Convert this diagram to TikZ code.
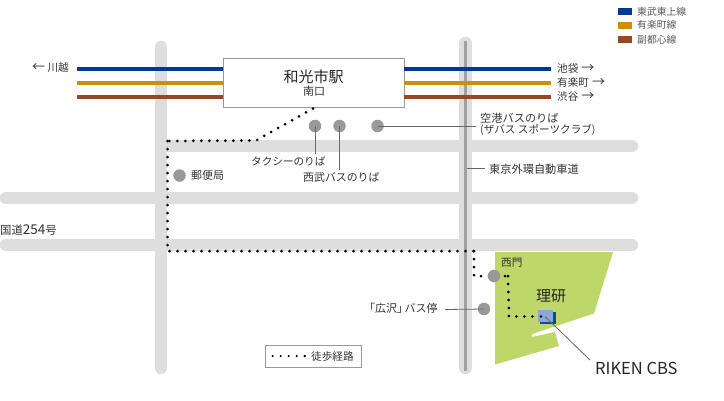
\documentclass[tikz,border=0pt]{standalone}
\usepackage{fontspec}
\setmainfont{Noto Sans CJK JP}
\definecolor{road}{HTML}{DEDEDE}
\definecolor{hwy}{HTML}{A0A0A0}
\definecolor{tobu}{HTML}{003894}
\definecolor{yura}{HTML}{CC8E0C}
\definecolor{fuku}{HTML}{97481E}
\definecolor{mark}{HTML}{999999}
\definecolor{ink}{HTML}{333333}
\definecolor{site}{HTML}{BDD768}
\definecolor{bldg}{HTML}{8DA7D6}
\definecolor{bldgdark}{HTML}{0D47A1}
\newcommand{\bigarrow}[1]{{\fontsize{13}{12}\selectfont #1}}
\tikzset{
  x=1pt,y=-1pt,
  roadline/.style={road,line width=12.5pt,line cap=round},
  rail/.style={line width=4pt},
  spot/.style={circle,fill=mark,minimum size=12.5pt,inner sep=0pt},
  leader/.style={draw=black!60,line width=0.8pt},
  walk/.style={black,line width=3pt,line cap=round,dash pattern=on 0pt off 8pt},
  lbl/.style={font=\fontsize{10.6}{12}\selectfont,text=ink,inner sep=0pt,anchor=west},
  lblw/.style={lbl,font=\fontsize{11.2}{12}\selectfont},
  leg/.style={font=\fontsize{9.8}{12}\selectfont,text=black!65,inner sep=0pt,anchor=west},
  swatch/.style={minimum width=14pt,minimum height=7pt,inner sep=0pt,anchor=north west},
  frame/.style={draw=mark,fill=white,line width=1pt,inner sep=0pt},
}
\begin{document}
\begin{tikzpicture}
\useasboundingbox (0,0) rectangle (724,400);
% roads
\draw[roadline] (161,47) -- (161,368);
\draw[roadline] (465.5,43) -- (465.5,368);
\draw[roadline] (161,146) -- (632,146);
\draw[roadline] (6,198) -- (632,198);
\draw[roadline] (6,245) -- (632,245);
\draw[hwy,line width=3pt] (465.5,41) -- (465.5,371);
% site
\fill[site] (495,252) -- (613,252) -- (594,313.5) -- (532,334) -- (532,337) -- (555,332) -- (559,346) -- (495,364.5) -- cycle;
% station and rails
\node[frame,minimum width=181pt,minimum height=49pt] (station) at (313.5,82.5) {};
\foreach \y/\c/\n in {69/tobu/a,83/yura/b,97/fuku/c}{
  \coordinate (l\n) at (77,\y);
  \coordinate (sl\n) at (223,\y);
  \coordinate (sr\n) at (404,\y);
  \coordinate (r\n) at (551,\y);
  \draw[rail,\c] (l\n) -- (sl\n);
  \draw[rail,\c] (sr\n) -- (r\n);
}
\node[font=\fontsize{15}{16}\selectfont,text=black!85,inner sep=0pt] (stname) at (313.5,76.5) {和光市駅};
\node[font=\fontsize{11}{12}\selectfont,text=ink,inner sep=0pt] (stsub) at (314,91) {南口};
% line end labels
\node[lbl,anchor=east] (kawagoe) at (69,68) {\bigarrow{←}\hspace{2.5pt}川越};
\node[lbl] (ikebukuro) at (557,68) {池袋\hspace{3pt}\bigarrow{→}};
\node[lbl] (yurakucho) at (557,82) {有楽町\hspace{3pt}\bigarrow{→}};
\node[lbl] (shibuya) at (557,96) {渋谷\hspace{3pt}\bigarrow{→}};
% legend
\node[swatch,fill=tobu] (s1) at (618,8) {};
\node[swatch,fill=yura] (s2) at (618,22) {};
\node[swatch,fill=fuku] (s3) at (618,36) {};
\node[leg] (t1) at (637,11.5) {東武東上線};
\node[leg] (t2) at (637,25) {有楽町線};
\node[leg] (t3) at (637,39.5) {副都心線};
% walking route
\coordinate (w1) at (313,108.5);
\coordinate (w2) at (256,140.5);
\coordinate (w3) at (167.5,141);
\coordinate (w4) at (167.5,251);
\coordinate (w5) at (474,251);
\coordinate (w6) at (474,276);
\coordinate (w7) at (508,276);
\coordinate (w8) at (509,316.5);
\coordinate (w9) at (541,316.5);
\draw[walk] (w1) -- (w2) -- (w3);
\draw[walk] (w3) -- (w4) -- (w5);
\draw[walk] (w5) -- (w6) -- (w7);
\draw[walk] (w7) -- (w8) -- (w9);
% building
\fill[bldgdark] (539.5,311.5) rectangle (556,324);
\node[minimum width=15pt,minimum height=12pt,inner sep=0pt,fill=bldg,anchor=north west] (cbs) at (538,310) {};
\fill[black] (w9) circle (1.4pt);
% spots
\node[spot] (taxi) at (315,126) {};
\node[spot] (seibu) at (339.5,126) {};
\node[spot] (airport) at (377.5,126) {};
\node[spot] (post) at (179.5,175.5) {};
\node[spot] (west) at (494,276) {};
\node[spot] (busstop) at (484,309) {};
% leaders
\coordinate (taxiend) at (315,154);
\coordinate (seibuend) at (339.5,170);
\coordinate (airportend) at (476,126);
\coordinate (hwya) at (466.5,168.5);
\coordinate (hwyb) at (485,168.5);
\coordinate (busend) at (445,309.5);
\coordinate (cbsin) at (545,316.5);
\coordinate (cbsend) at (590,360);
\draw[leader] (taxi.center) -- (taxiend);
\draw[leader] (seibu.center) -- (seibuend);
\draw[leader] (airport.center) -- (airportend);
\draw[leader] (hwya) -- (hwyb);
\draw[leader] (busend) -- (busstop.center);
\draw[leader] (cbsin) -- (cbsend);
% labels
\node[lblw] (lair1) at (480,118) {空港バスのりば};
\node[lbl] (lair2) at (480,130) {(ザバス スポーツクラブ)};
\node[lblw] (lhwy) at (489,169) {東京外環自動車道};
\node[lbl] (ltaxi) at (251,161) {タクシーのりば};
\node[lbl,font=\fontsize{10.9}{12}\selectfont] (lseibu) at (303,177) {西武バスのりば};
\node[lbl,font=\fontsize{11}{12}\selectfont] (lpost) at (191,175.5) {郵便局};
\node[lbl,font=\fontsize{11.4}{12}\selectfont] (lroute) at (0,230) {国道{\fontsize{13.5}{12}\selectfont 254}号};
\node[lbl] (lwest) at (501,263) {西門};
\node[font=\fontsize{15}{16}\selectfont,text=black!85,inner sep=0pt,anchor=west] (lriken) at (536,296) {理研};
\node[lbl,font=\fontsize{11}{12}\selectfont] (lbus) at (364,308) {「広沢」\kern-3.5ptバス停};
\node[font=\fontsize{16.5}{18}\selectfont,text=black!85,inner sep=0pt,anchor=west] (lcbs) at (595,368) {RIKEN CBS};
% walking legend
\node[frame,minimum width=96pt,minimum height=22pt] (legbox) at (313,356) {};
\coordinate (lega) at (272.7,356);
\coordinate (legb) at (304.7,356);
\draw[walk,line width=2.4pt] (lega) -- (legb);
\fill[black] (legb) circle (1.2pt);
\node[lbl] (lwalk) at (311,356) {徒歩経路};
\end{tikzpicture}
\end{document}
